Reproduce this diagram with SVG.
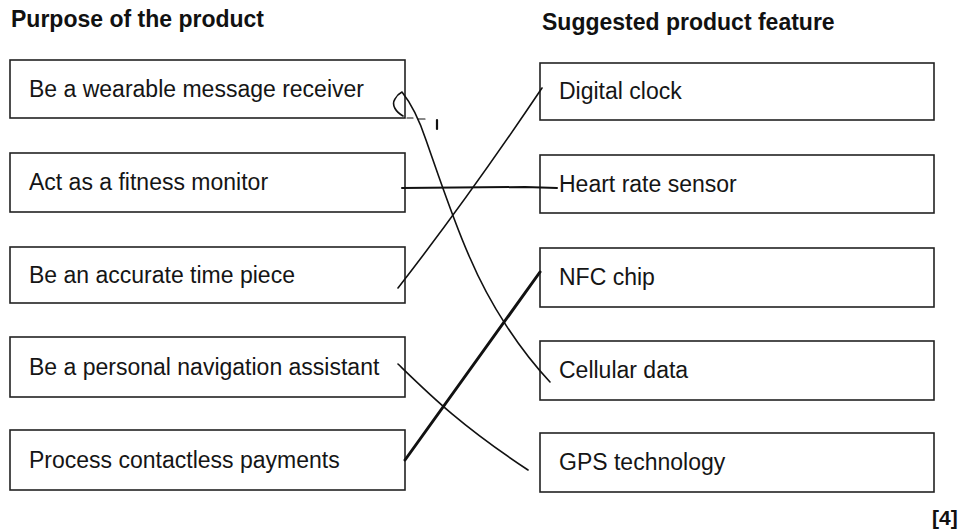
<svg xmlns="http://www.w3.org/2000/svg" width="959" height="529" viewBox="0 0 959 529">
<style>
.title{font-family:"Liberation Sans",Arial,sans-serif;font-weight:bold;font-size:23px;fill:#111}
.lbl{font-family:"Liberation Sans",Arial,sans-serif;font-size:23px;fill:#151515}
.box{fill:#fff;stroke:#222;stroke-width:1.6}
.pen{fill:none;stroke:#111;stroke-width:1.6;stroke-linecap:round;stroke-linejoin:round}
</style>
<rect width="959" height="529" fill="#fff"/>
<text class="title" x="11" y="27">Purpose of the product</text>
<text class="title" x="542" y="30">Suggested product feature</text>

<g id="p1"><rect class="box" x="10" y="60" width="395" height="58"/><text class="lbl" x="29" y="97">Be a wearable message receiver</text></g>
<g id="p2"><rect class="box" x="10" y="153" width="395" height="59"/><text class="lbl" x="29" y="190">Act as a fitness monitor</text></g>
<g id="p3"><rect class="box" x="10" y="247" width="395" height="56"/><text class="lbl" x="29" y="283">Be an accurate time piece</text></g>
<g id="p4"><rect class="box" x="10" y="337" width="395" height="60"/><text class="lbl" x="29" y="375">Be a personal navigation assistant</text></g>
<g id="p5"><rect class="box" x="10" y="430" width="395" height="60"/><text class="lbl" x="29" y="468">Process contactless payments</text></g>

<g id="f1"><rect class="box" x="540" y="63" width="394" height="57"/><text class="lbl" x="559" y="99">Digital clock</text></g>
<g id="f2"><rect class="box" x="540" y="155" width="394" height="58"/><text class="lbl" x="559" y="192">Heart rate sensor</text></g>
<g id="f3"><rect class="box" x="540" y="248" width="394" height="59"/><text class="lbl" x="559" y="285">NFC chip</text></g>
<g id="f4"><rect class="box" x="540" y="341" width="394" height="59"/><text class="lbl" x="559" y="378">Cellular data</text></g>
<g id="f5"><rect class="box" x="540" y="433" width="394" height="59"/><text class="lbl" x="559" y="470">GPS technology</text></g>

<g id="connectors">
<path class="pen" d="M403,116 C396,112 391,105 395,99 C397,95 400,93 402,92 C410,102 419,119 426,140 C440,180 455,225 470,258 C490,305 520,350 550,382"/>
<path class="pen" style="stroke-width:1.2" d="M407,118 L413,118 M418,119 L425,119"/>
<path class="pen" style="stroke-width:2.2" d="M437,120 L437,129"/>
<path class="pen" style="stroke-width:2" d="M402,188 L525,187 L557,188"/>
<path class="pen" d="M398,288 Q468,198 542,88"/>
<path class="pen" d="M398,364 C430,395 460,425 528,470"/>
<path class="pen" style="stroke-width:3" d="M405,460 L540,272"/>
</g>
<text class="title" x="932" y="525" style="font-size:21px">[4]</text>
</svg>
